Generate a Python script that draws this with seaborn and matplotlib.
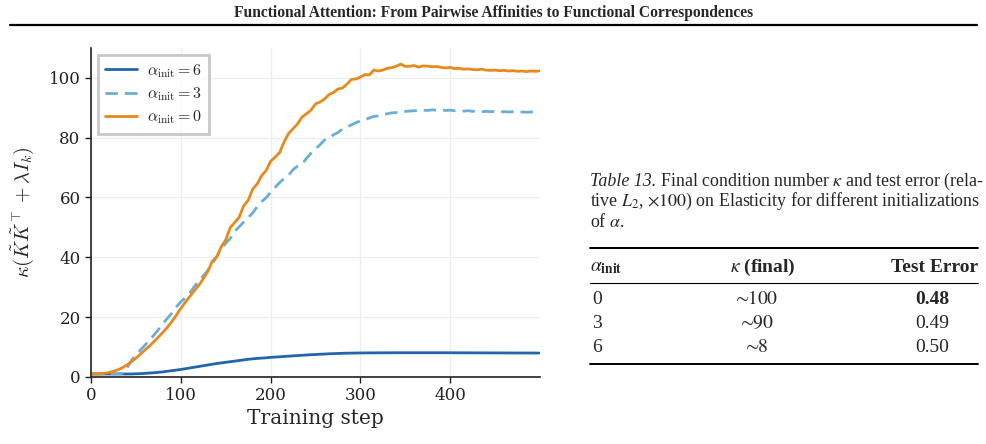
import matplotlib
matplotlib.use("Agg")
import matplotlib.pyplot as plt
import seaborn as sns
import pandas as pd

# training steps (every 5 steps, last one 499)
steps = list(range(0, 500, 5)) + [499]

# alpha_init = 6
kappa_a6 = [1.0, 1.0, 1.0, 1.0, 1.0, 1.0, 1.0, 1.0, 1.0, 1.0,
            1.05, 1.1, 1.2, 1.3, 1.4, 1.55, 1.7, 1.9, 2.1, 2.3,
            2.5, 2.75, 3.0, 3.25, 3.5, 3.75, 4.0, 4.25, 4.5, 4.7,
            4.9, 5.1, 5.3, 5.5, 5.7, 5.9, 6.05, 6.2, 6.3, 6.4,
            6.55, 6.65, 6.75, 6.85, 6.95, 7.05, 7.15, 7.25, 7.35, 7.45,
            7.5, 7.6, 7.65, 7.75, 7.8, 7.85, 7.9, 7.95, 7.97, 8.0,
            8.02, 8.04, 8.05, 8.06, 8.07, 8.08, 8.08, 8.09, 8.1, 8.1,
            8.1, 8.1, 8.1, 8.1, 8.1, 8.1, 8.1, 8.1, 8.1, 8.1,
            8.1, 8.08, 8.08, 8.07, 8.07, 8.06, 8.06, 8.05, 8.05, 8.04,
            8.04, 8.03, 8.03, 8.02, 8.02, 8.02, 8.01, 8.01, 8.0, 8.0,
            8.0]

# alpha_init = 3
kappa_a3 = [1.0, 1.0, 1.0, 1.0, 1.0, 1.0, 1.0, 1.3, 3.0, 5.5,
            7.4, 9.0, 10.6, 12.3, 14.0, 15.8, 17.8, 19.6, 21.3, 23.4,
            25.1, 26.5, 28.0, 30.2, 32.0, 33.8, 35.6, 37.8, 40.3, 42.6,
            44.7, 46.3, 48.7, 50.2, 51.8, 53.2, 54.8, 56.9, 58.6, 59.9,
            61.7, 63.4, 65.0, 66.3, 67.4, 69.3, 70.5, 71.2, 73.1, 74.8,
            76.3, 77.6, 79.2, 79.8, 81.0, 81.7, 82.9, 83.6, 84.3, 85.0,
            85.6, 86.0, 86.6, 87.1, 87.3, 87.8, 88.0, 88.3, 88.4, 88.7,
            88.8, 88.9, 89.0, 89.1, 89.2, 89.1, 89.3, 89.2, 89.3, 89.1,
            89.2, 89.0, 89.1, 88.9, 89.0, 88.8, 88.9, 88.7, 88.8, 88.7,
            88.8, 88.6, 88.7, 88.6, 88.7, 88.5, 88.6, 88.5, 88.6, 88.5,
            88.6]

# alpha_init = 0
kappa_a0 = [1.0, 1.0, 1.1, 1.2, 1.5, 1.9, 2.4, 3.1, 4.0, 5.1,
            6.3, 7.6, 9.0, 10.3, 11.8, 13.3, 14.9, 16.6, 18.5, 20.6,
            22.9, 25.0, 26.9, 28.8, 30.6, 32.8, 35.2, 38.6, 40.1, 43.5,
            45.8, 49.9, 51.6, 53.4, 57.2, 59.0, 62.8, 64.5, 67.3, 69.0,
            72.1, 73.5, 75.0, 78.6, 81.4, 83.0, 84.6, 86.9, 88.0, 89.2,
            91.3, 91.9, 92.9, 94.4, 95.1, 96.3, 96.6, 97.9, 99.5, 99.6,
            100.3, 101.1, 101.0, 102.6, 102.3, 102.6, 103.2, 103.4, 103.9, 104.6,
            103.8, 103.9, 104.1, 103.6, 104.0, 103.9, 103.7, 103.8, 103.5, 103.3,
            103.5, 103.1, 103.2, 102.9, 103.0, 102.8, 102.7, 102.9, 102.6, 102.5,
            102.6, 102.4, 102.5, 102.3, 102.4, 102.2, 102.3, 102.1, 102.3, 102.2,
            102.3]

labels = [r"$\alpha_{\mathrm{init}} = 6$", r"$\alpha_{\mathrm{init}} = 3$", r"$\alpha_{\mathrm{init}} = 0$"]
colors = ["#2166ac", "#6aaed6", "#e8891c"]

# table contents
tab_alpha = ["0", "3", "6"]
tab_kappa = [r"$\sim\!\!\mathrm{100}$", r"$\sim\!\!\mathrm{90}$", r"$\sim\!\!\mathrm{8}$"]
tab_err = ["0.48", "0.49", "0.50"]

df = pd.concat([
    pd.DataFrame({"step": steps, "kappa": kappa_a6, "run": labels[0]}),
    pd.DataFrame({"step": steps, "kappa": kappa_a3, "run": labels[1]}),
    pd.DataFrame({"step": steps, "kappa": kappa_a0, "run": labels[2]}),
])

sns.set_style("ticks")
plt.rcParams["font.family"] = ["DejaVu Serif"]
plt.rcParams["mathtext.fontset"] = "cm"

fig = plt.figure(figsize=(9.87, 4.44), dpi=100)
ax = fig.add_axes([0.0922, 0.151, 0.4549, 0.741])

sns.lineplot(data=df, x="step", y="kappa", hue="run", style="run",
             palette=dict(zip(labels, colors)),
             dashes={labels[0]: "", labels[1]: (4.5, 2.5), labels[2]: ""},
             linewidth=2.0, ax=ax)

ax.set_xlim(0, 500)
ax.set_ylim(0, 110)
ax.set_xticks([0, 100, 200, 300, 400])
ax.set_yticks([0, 20, 40, 60, 80, 100])
ax.grid(True, color="#eeeeee", linewidth=0.9)
ax.set_axisbelow(True)
for s in ["top", "right"]:
    ax.spines[s].set_visible(False)
for s in ["left", "bottom"]:
    ax.spines[s].set_color("#222222")
    ax.spines[s].set_linewidth(1.2)
ax.tick_params(labelsize=12, colors="#222222", length=4, width=1.0)
ax.set_xlabel("Training step", fontsize=14.5, labelpad=3)
ax.set_ylabel(r"$\kappa(\tilde{K}\tilde{K}^{\top} + \lambda I_k)$", fontsize=14.5, labelpad=9)

leg = ax.legend(loc="upper left", fontsize=11.5, frameon=True, fancybox=False,
                edgecolor="#bbbbbb", handlelength=2.0, handletextpad=0.6,
                borderpad=0.45, labelspacing=0.35, borderaxespad=0,
                bbox_to_anchor=(0.0156, 0.979))
leg.get_frame().set_linewidth(2.0)
for h in leg.get_lines():
    h.set_linewidth(2.0)

# page header
fig.text(0.5, 1 - 13 / 444, "Functional Attention: From Pairwise Affinities to Functional Correspondences",
         ha="center", va="center", family="Liberation Serif", weight="bold", fontsize=11.2)
fig.add_artist(plt.Line2D([10 / 987, 977 / 987], [1 - 25 / 444] * 2, color="black", linewidth=1.6))

# table caption
tx0, tx1 = 590 / 987, 978 / 987
cfs = 12.85
renderer = fig.canvas.get_renderer()
lead = fig.text(tx0, 1 - 181 / 444, "Table 13.", ha="left", va="center", style="italic",
                family="Liberation Serif", fontsize=cfs)
lead_w = lead.get_window_extent(renderer).width / fig.bbox.width
fig.text(tx0 + lead_w, 1 - 181 / 444, r" Final condition number $\kappa$ and test error (rela-",
         ha="left", va="center", family="Liberation Serif", math_fontfamily="stix", fontsize=cfs)
cap = [r"tive $L_2$, $\times 100$) on Elasticity for different initializations",
       r"of $\alpha$."]
for i, line in enumerate(cap):
    fig.text(tx0, 1 - (201.5 + 20.5 * i) / 444, line, ha="left", va="center",
             family="Liberation Serif", math_fontfamily="stix", fontsize=cfs)

# table rules
for y, lw in [(248, 1.4), (283, 0.8), (364, 1.4)]:
    fig.add_artist(plt.Line2D([tx0, tx1], [1 - y / 444] * 2, color="black", linewidth=lw))

# header row
fs = 14
yh = 1 - 267 / 444
fig.text(tx0, yh, r"$\alpha_{\mathbf{init}}$", ha="left", va="center",
         family="Liberation Serif", math_fontfamily="stix", fontsize=fs)
fig.text(763 / 987, yh, r"$\kappa$ (final)", ha="center", va="center", weight="bold",
         family="Liberation Serif", math_fontfamily="stix", fontsize=fs)
fig.text(tx1, yh, "Test Error", ha="right", va="center", weight="bold",
         family="Liberation Serif", fontsize=fs)

for i, yp in enumerate([299, 323, 347]):
    y = 1 - yp / 444
    fig.text(tx0 + 2 / 987, y, tab_alpha[i], ha="left", va="center",
             family="Liberation Serif", fontsize=fs)
    fig.text(756 / 987, y, tab_kappa[i], ha="center", va="center",
             family="Liberation Serif", math_fontfamily="stix", fontsize=fs)
    fig.text(932 / 987, y, tab_err[i], ha="center", va="center",
             family="Liberation Serif", fontsize=fs, weight="bold" if i == 0 else "normal")

fig.savefig("out.png", dpi=100)
